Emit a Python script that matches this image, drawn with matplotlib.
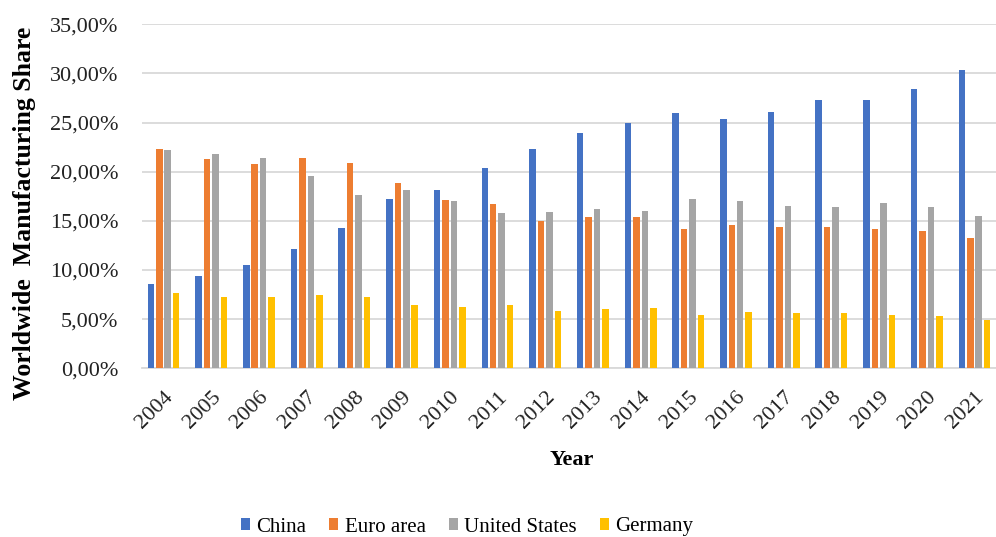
import numpy as np
import matplotlib
matplotlib.use("Agg")
import matplotlib.pyplot as plt
from matplotlib.ticker import FuncFormatter

# ─── Data (share of worldwide manufacturing, %) ───
years = [str(y) for y in range(2004, 2022)]
china = [8.6, 9.4, 10.5, 12.1, 14.3, 17.2, 18.1, 20.4, 22.3, 23.9, 25.0, 26.0,
         25.4, 26.1, 27.3, 27.3, 28.4, 30.3]
euro_area = [22.3, 21.3, 20.8, 21.4, 20.9, 18.9, 17.1, 16.7, 15.0, 15.4, 15.4, 14.2,
             14.6, 14.4, 14.4, 14.2, 14.0, 13.3]
united_states = [22.2, 21.8, 21.4, 19.6, 17.6, 18.1, 17.0, 15.8, 15.9, 16.2, 16.0, 17.2,
                 17.0, 16.5, 16.4, 16.8, 16.4, 15.5]
germany = [7.7, 7.3, 7.3, 7.5, 7.3, 6.4, 6.2, 6.4, 5.8, 6.0, 6.1, 5.4,
           5.7, 5.6, 5.6, 5.4, 5.3, 4.9]

series = [
    ("China", china, "#4472C4"),
    ("Euro area", euro_area, "#ED7D31"),
    ("United States", united_states, "#A5A5A5"),
    ("Germany", germany, "#FFC000"),
]

SERIF = ["Liberation Serif", "DejaVu Serif"]
plt.rcParams["font.family"] = SERIF

fig = plt.figure(figsize=(9.96, 5.37), dpi=100)
ax = fig.add_axes([0.1426, 0.314, 0.8574, 0.641])

x = np.arange(len(years))
width = 0.137
step = 0.177
for i, (name, vals, col) in enumerate(series):
    ax.bar(x + (i - 1.5) * step, vals, width=width, color=col, label=name, zorder=3)

ax.set_ylim(0, 35)
ax.set_yticks(np.arange(0, 36, 5))
ax.yaxis.set_major_formatter(FuncFormatter(lambda v, _: f"{v:.2f}%".replace(".", ",")))
ax.set_xlim(-0.45, len(years) - 0.55)
ax.set_xticks(x)
ax.set_xticklabels(years, rotation=45, ha="right", va="top", rotation_mode="anchor")

ax.grid(axis="y", color="#d9d9d9", lw=1.3, zorder=0)
for s in ("top", "right", "left"):
    ax.spines[s].set_visible(False)
ax.spines["bottom"].set_color("#d9d9d9")
ax.spines["bottom"].set_linewidth(1.3)
ax.tick_params(axis="y", length=0, pad=17, labelsize=16, colors="#222")
ax.tick_params(axis="x", length=0, pad=14, labelsize=16, colors="#222")

fig.text(0.025, 1 - 213 / 537, "Worldwide  Manufacturing Share", rotation=90,
         ha="center", va="center", fontsize=18.5, fontweight="bold")
fig.text(572 / 996, 1 - 460 / 537, "Year", ha="center", va="center",
         fontsize=16, fontweight="bold")

fig.legend(loc="center", bbox_to_anchor=(467 / 996, 1 - 527 / 537), ncol=4,
           frameon=False, fontsize=15, handlelength=0.45, handleheight=0.45,
           handletextpad=0.3, columnspacing=1.1)

fig.savefig("out.png", dpi=100)
